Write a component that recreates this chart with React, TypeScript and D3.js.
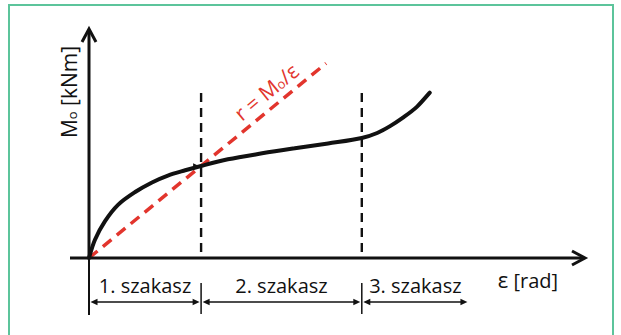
import React from "react";
import * as d3 from "d3";

// Moment–rotation curve of the joint (dimensionless units)
const epsilon = [0, 0.12, 0.32, 0.59, 0.93, 1.27, 1.59, 1.94, 2.26, 2.8, 3.49, 4.15, 4.82, 5.5, 5.81, 6.07, 6.33, 6.61, 6.87];
const moment = [0, 0.8, 1.6, 2.33, 2.88, 3.3, 3.6, 3.83, 4.02, 4.31, 4.57, 4.79, 5.0, 5.24, 5.46, 5.76, 6.13, 6.6, 7.22];

// Stage boundaries along the rotation axis and their labels
const stageBounds = [0, 2.26, 5.5, 7.66];
const stageLabels = ["1. szakasz", "2. szakasz", "3. szakasz"];

// Secant stiffness line r = M0/ε through the end of stage 1
const secantEnd = 4.78;
const dividerTop = 7.2;

const W = 621;
const H = 335;
const FONT = "'Open Sans', 'Liberation Sans', sans-serif";
const RED = "#e2352d";
const INK = "#111";

export default function App() {
  const x = d3.scaleLinear().domain([0, 10]).range([89, 585]);
  const y = d3.scaleLinear().domain([0, 10]).range([258, 29]);

  const pts: [number, number][] = epsilon.map((e, i) => [e, moment[i]]);
  const curve = d3
    .line<[number, number]>()
    .x((d) => x(d[0]))
    .y((d) => y(d[1]))
    .curve(d3.curveCatmullRom.alpha(0.5))(pts);

  // secant passes through origin and the curve point at the first boundary
  const kIdx = epsilon.indexOf(stageBounds[1]);
  const slope = moment[kIdx] / epsilon[kIdx];
  const sx0 = x(0), sy0 = y(0);
  const sx1 = x(secantEnd), sy1 = y(secantEnd * slope);
  const angle = (Math.atan2(sy1 - sy0, sx1 - sx0) * 180) / Math.PI;
  const labelT = 0.79;
  const lx = sx0 + (sx1 - sx0) * labelT;
  const ly = sy0 + (sy1 - sy0) * labelT;

  const x0 = x(0);
  const y0 = y(0);
  const axisEnd = x.range()[1];
  const axisTop = y.range()[1];

  const bracketY = 302;
  const labelY = 293;
  const tickTop = 283;
  const tickBottom = 314;

  // small arrowhead on the curve at the end of stage 1
  const kx = x(stageBounds[1]);
  const ky = y(moment[kIdx]);

  const arrowHead = (xt: number, yt: number, dir: number) => {
    const len = 7, half = 3.2;
    return `M${xt},${yt}L${xt - dir * len},${yt - half}L${xt - dir * len},${yt + half}Z`;
  };

  return (
    <svg
      width={W}
      height={H}
      viewBox={`0 0 ${W} ${H}`}
      style={{ position: "absolute", left: 0, top: 0, background: "#fff" }}
    >
      <rect x={9} y={5} width={604} height={H + 10} fill="#fff" stroke="#5cc49b" strokeWidth={2} />

      {/* stage dividers */}
      {stageBounds.slice(1, 3).map((b, i) => (
        <line
          key={`div${i}`}
          x1={x(b)}
          x2={x(b)}
          y1={y(dividerTop)}
          y2={y0}
          stroke={INK}
          strokeWidth={2.4}
          strokeDasharray="9 6"
        />
      ))}

      {/* secant line */}
      <line x1={sx0} y1={sy0} x2={sx1} y2={sy1} stroke={RED} strokeWidth={3.5} strokeDasharray="11 7" />
      <text
        transform={`translate(${lx},${ly}) rotate(${angle}) translate(0,-8)`}
        textAnchor="middle"
        fontFamily={FONT}
        fontSize={21}
        fill={RED}
      >
        r = M<tspan fontSize={13}>o</tspan>/ε
      </text>

      {/* moment-rotation curve */}
      <path d={curve ?? ""} fill="none" stroke={INK} strokeWidth={4} strokeLinecap="round" />
      <path d={arrowHead(kx - 1, ky + 0.5, 1)} fill={INK} />

      {/* axes */}
      <line x1={x0} y1={y0} x2={x0} y2={axisTop + 1} stroke={INK} strokeWidth={3} />
      <path
        d={`M${x0 - 7},${axisTop + 13}L${x0},${axisTop}L${x0 + 7},${axisTop + 13}`}
        fill="none"
        stroke={INK}
        strokeWidth={3}
        strokeLinejoin="miter"
      />
      <line x1={70} y1={y0} x2={axisEnd - 1} y2={y0} stroke={INK} strokeWidth={3} />
      <path
        d={`M${axisEnd - 13},${y0 - 7}L${axisEnd},${y0}L${axisEnd - 13},${y0 + 7}`}
        fill="none"
        stroke={INK}
        strokeWidth={3}
      />
      <line x1={x0} y1={y0} x2={x0} y2={tickBottom + 1} stroke={INK} strokeWidth={2} />

      <text
        transform={`translate(77,92) rotate(-90)`}
        textAnchor="middle"
        fontFamily={FONT}
        fontSize={21}
        fill={INK}
      >
        M<tspan fontSize={13}>o</tspan> [kNm]
      </text>
      <text x={528} y={288} textAnchor="middle" fontFamily={FONT} fontSize={20} fill={INK}>
        <tspan fontSize={22}>ε</tspan>  [rad]
      </text>

      {/* stage brackets */}
      {stageBounds.slice(1, 3).map((b, i) => (
        <line key={`tick${i}`} x1={x(b)} x2={x(b)} y1={tickTop} y2={tickBottom} stroke={INK} strokeWidth={1.5} />
      ))}
      {stageLabels.map((lab, i) => {
        const a = x(stageBounds[i]) + 1.5;
        const b = x(stageBounds[i + 1]) - 1.5;
        return (
          <g key={lab}>
            <line x1={a + 4} x2={b - 4} y1={bracketY} y2={bracketY} stroke={INK} strokeWidth={1.6} />
            <path d={arrowHead(a, bracketY, -1)} fill={INK} />
            <path d={arrowHead(b, bracketY, 1)} fill={INK} />
            <text
              x={(a + b) / 2}
              y={labelY}
              textAnchor="middle"
              fontFamily={FONT}
              fontSize={20}
              fill={INK}
            >
              {lab}
            </text>
          </g>
        );
      })}
    </svg>
  );
}
